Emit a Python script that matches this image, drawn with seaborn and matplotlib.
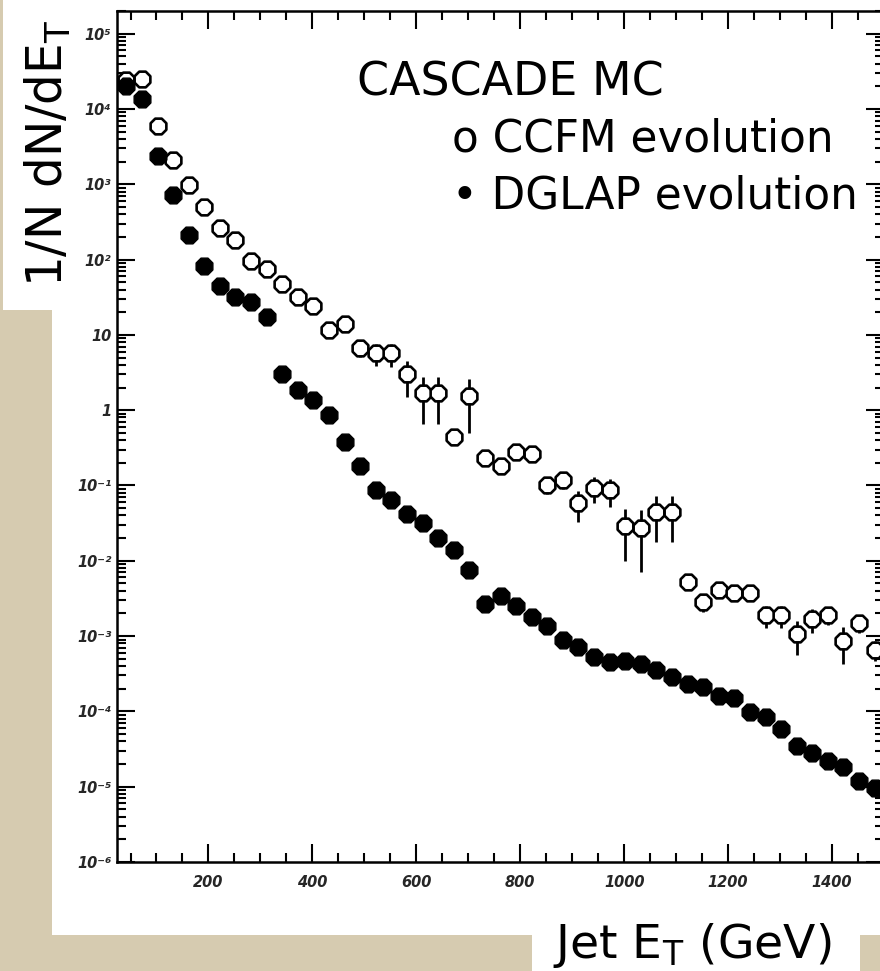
import numpy as np
import pandas as pd
import seaborn as sns
import matplotlib
import matplotlib.pyplot as plt
from matplotlib.ticker import FixedLocator, FixedFormatter, LogLocator, MultipleLocator, NullFormatter
from matplotlib.patches import Rectangle

# jet E_T bin centres (GeV)
et = [42, 72, 102, 132, 162, 192, 222, 252, 282, 312, 342, 372, 402, 432, 462,
      492, 522, 552, 582, 612, 642, 672, 702, 732, 762, 792, 822, 852, 882, 912,
      942, 972, 1002, 1032, 1062, 1092, 1122, 1152, 1182, 1212, 1242, 1272, 1302,
      1332, 1362, 1392, 1422, 1452, 1482]

# CCFM evolution (open points) + stat errors
ccfm = [2.4e4, 2.5e4, 5.9e3, 2.1e3, 980, 500, 260, 180, 96, 74, 48, 32, 24, 11.5, 13.8,
        6.6, 5.7, 5.7, 3.0, 1.7, 1.7, 0.44, 1.55, 0.23, 0.18, 0.275, 0.26, 0.103, 0.12, 0.059,
        0.093, 0.087, 0.029, 0.027, 0.045, 0.045, 0.0052, 0.0028, 0.0041, 0.0037, 0.0037, 0.0019, 0.0019,
        0.00108, 0.0017, 0.0019, 0.00087, 0.0015, 0.00066]
ccfm_err = [1.5e3, 1.5e3, 400, 150, 70, 40, 25, 18, 10, 8, 5, 4, 3, 1.5, 2.5,
            1.5, 1.8, 1.9, 1.5, 1.05, 1.05, 0.05, 1.05, 0.025, 0.035, 0.05, 0.04, 0.025, 0.03, 0.026,
            0.035, 0.035, 0.019, 0.020, 0.027, 0.027, 0.0005, 0.0007, 0.0006, 0.0006, 0.0006, 0.0006, 0.0006,
            0.00052, 0.0006, 0.0005, 0.00045, 0.0004, 0.0002]

# DGLAP evolution (filled points)
dglap = [2.0e4, 1.35e4, 2.4e3, 720, 210, 83, 44, 32, 27.7, 17.5, 3.0, 1.86, 1.37, 0.87, 0.38,
         0.18, 0.087, 0.064, 0.042, 0.032, 0.020, 0.014, 0.0075, 0.0027, 0.0034, 0.0025, 0.0018, 0.00135, 0.00089, 0.00071,
         0.00053, 0.00045, 0.00046, 0.00042, 0.00036, 0.00029, 0.00023, 0.00021, 0.00016, 0.00015, 9.8e-5, 8.3e-5, 5.9e-5,
         3.5e-5, 2.8e-5, 2.2e-5, 1.8e-5, 1.2e-5, 9.7e-6]

ytick_vals = [1e-6, 1e-5, 1e-4, 1e-3, 1e-2, 1e-1, 1, 10, 1e2, 1e3, 1e4, 1e5]
ytick_labels = ["10⁻⁶", "10⁻⁵", "10⁻⁴", "10⁻³", "10⁻²", "10⁻¹", "1", "10", "10²", "10³", "10⁴", "10⁵"]

df = pd.DataFrame({"et": et, "ccfm": ccfm, "err": ccfm_err, "dglap": dglap})

sns.set_style("ticks")
plt.rcParams['font.family'] = ['DejaVu Sans']
plt.rcParams['mathtext.fontset'] = 'dejavusans'
plt.rcParams['mathtext.default'] = 'regular'

W, H = 880, 971
beige = '#d6cbb0'
fig = plt.figure(figsize=(W / 100, H / 100), dpi=100)
fig.patch.set_facecolor(beige)

def box(x0, y0, x1, y1):
    # white panels, given in pixel coords (top-left origin)
    fig.add_artist(Rectangle((x0 / W, 1 - y1 / H), (x1 - x0) / W, (y1 - y0) / H,
                             transform=fig.transFigure, facecolor='white',
                             edgecolor='none', zorder=-5))

box(52, 0, 880, 935)
box(3, 0, 82, 310)
box(532, 902, 860, 971)

ax = fig.add_axes([117 / W, 1 - 862 / H, (884 - 117) / W, (862 - 11) / H])
ax.set_facecolor('white')

ax.errorbar(df.et, df.ccfm, yerr=df.err, fmt='none', ecolor='black',
            elinewidth=2.0, capsize=0, zorder=2)
sns.scatterplot(data=df, x="et", y="ccfm", marker='8', s=150, color='white',
                edgecolor='black', linewidth=1.9, ax=ax, zorder=3, legend=False)
sns.scatterplot(data=df, x="et", y="dglap", marker='8', s=170, color='black',
                edgecolor='black', linewidth=1.0, ax=ax, zorder=4, legend=False)

ax.set_yscale('log')
ax.set_xlim(24, 1500)
ax.set_ylim(1e-6, 2e5)
ax.set_xlabel('')
ax.set_ylabel('')

ax.xaxis.set_major_locator(MultipleLocator(200))
ax.xaxis.set_minor_locator(MultipleLocator(50))
ax.yaxis.set_major_locator(FixedLocator(ytick_vals))
ax.yaxis.set_major_formatter(FixedFormatter(ytick_labels))
ax.yaxis.set_minor_locator(LogLocator(base=10, subs=np.arange(2, 10), numticks=30))
ax.yaxis.set_minor_formatter(NullFormatter())

ax.tick_params(which='both', direction='in', top=True, right=True, width=1.5, color='black')
ax.tick_params(which='major', length=13)
ax.tick_params(which='minor', length=6.5)
ax.tick_params(axis='x', pad=9)
ax.tick_params(axis='y', pad=4)
for lab in ax.get_xticklabels() + ax.get_yticklabels():
    lab.set_fontsize(10.5)
    lab.set_fontweight('bold')
    lab.set_fontstyle('italic')
for sp in ax.spines.values():
    sp.set_linewidth(1.8)
    sp.set_color('black')

def ftext(px, py, s, **kw):
    fig.text(px / W, 1 - py / H, s, va='baseline', ha='left', color='black', **kw)

ftext(357, 95, "CASCADE MC", fontsize=33)
ftext(452, 152, "o CCFM evolution", fontsize=31.5)
ftext(452, 208, "• DGLAP evolution", fontsize=31.5)
ftext(553, 958, "Jet E$_\\mathrm{T}$ (GeV)", fontsize=34)
fig.text(63 / W, 1 - 287 / H, "1/N dN/dE$_\\mathrm{T}$", fontsize=35, rotation=90,
         rotation_mode='anchor', ha='left', va='baseline', color='black')

fig.savefig('out.png', dpi=100, facecolor=fig.get_facecolor())
